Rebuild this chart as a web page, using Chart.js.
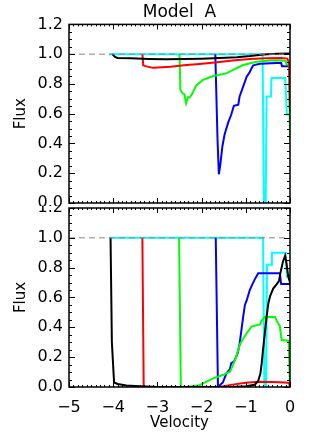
<!DOCTYPE html>
<html>
<head>
<meta charset="utf-8">
<script src="https://cdn.jsdelivr.net/npm/chart.js@4.4.1/dist/chart.umd.min.js"></script>
<style>
  html, body { margin: 0; padding: 0; background: #fff; }
  #wrap { position: relative; width: 311px; height: 434px; }
  canvas { position: absolute; left: 0; }
  #topChart { top: 0; }
  #bottomChart { top: 206px; }
</style>
</head>
<body>
<div id="wrap">
  <canvas id="topChart" width="311" height="206"></canvas>
  <canvas id="bottomChart" width="311" height="228"></canvas>
</div>
<script>
// tick labels
const xTickValues = [-5, -4, -3, -2, -1, 0];
const xTickLabels = ["\u22125", "\u22124", "\u22123", "\u22122", "\u22121", "0"];
const yTickValues = [0, 0.2, 0.4, 0.6, 0.8, 1.0, 1.2];
const yTickLabels = ["0.0", "0.2", "0.4", "0.6", "0.8", "1.0", "1.2"];

// continuum level (dashed)
const refV = [-5, 0];
const refF = [1, 1];

// top panel
const topBlackV = [-4.02, -3.96, -3.9, -3.6, -3.2, -2.8, -2.4, -2.0, -1.6, -1.2, -0.9, -0.6, -0.3, 0];
const topBlackF = [1.0, 0.982, 0.975, 0.972, 0.968, 0.966, 0.968, 0.97, 0.974, 0.98, 0.987, 0.997, 1.003, 1.004];
const topRedV = [-3.34, -3.32, -3.25, -3.1, -2.9, -2.7, -2.4, -2.05, -1.7, -1.3, -0.9, -0.55, -0.2, -0.06, -0.02, 0];
const topRedF = [1.0, 0.925, 0.918, 0.908, 0.912, 0.916, 0.925, 0.934, 0.944, 0.957, 0.967, 0.973, 0.975, 0.97, 0.94, 0.62];
const topGreenV = [-2.5, -2.48, -2.44, -2.39, -2.35, -2.31, -2.27, -2.22, -2.12, -1.97, -1.74, -1.44, -1.3, -1.06, -0.76, -0.45, -0.23, -0.1, -0.08, -0.02, 0];
const topGreenF = [1.0, 0.76, 0.74, 0.73, 0.67, 0.71, 0.71, 0.73, 0.79, 0.827, 0.853, 0.871, 0.893, 0.927, 0.949, 0.957, 0.957, 0.955, 0.93, 0.93, 0.42];
const topBlueV = [-1.69, -1.64, -1.61, -1.58, -1.53, -1.48, -1.4, -1.33, -1.27, -1.17, -1.14, -1.06, -0.98, -0.91, -0.87, -0.83, -0.68, -0.3, -0.2, -0.18, 0];
const topBlueF = [1.0, 0.43, 0.193, 0.25, 0.38, 0.46, 0.54, 0.593, 0.653, 0.66, 0.716, 0.782, 0.849, 0.88, 0.905, 0.925, 0.935, 0.94, 0.94, 0.918, 0.918];
const topCyanV = [-4.09, -0.62, -0.59, -0.55, -0.53, -0.43, -0.42, -0.11, -0.07, 0];
const topCyanF = [1.0, 1.0, -0.02, -0.02, 0.715, 0.715, 0.84, 0.84, 0.595, 0.595];

// bottom panel
const botBlackV = [-4.06, -4.03, -3.98, -3.9, -3.7, -3.4, -3.0, -2.0, -1.3, -1.0, -0.8, -0.72, -0.67, -0.64, -0.61, -0.57, -0.53, -0.49, -0.45, -0.38, -0.3, -0.25, -0.22, -0.16, -0.11, -0.08, -0.04, 0];
const botBlackF = [1.0, 0.3, 0.03, 0.02, 0.01, 0.005, 0.0, 0.0, 0.0, 0.005, 0.015, 0.04, 0.09, 0.16, 0.25, 0.36, 0.47, 0.56, 0.61, 0.66, 0.69, 0.71, 0.76, 0.84, 0.88, 0.83, 0.74, 0.7];
const botRedV = [-3.34, -3.31, -3.0, -2.0, -1.6, -1.3, -1.0, -0.7, -0.4, -0.1, -0.02, 0];
const botRedF = [1.0, 0.0, -0.004, -0.004, 0.0, 0.016, 0.028, 0.036, 0.034, 0.03, 0.026, 0.0];
const botGreenV = [-2.51, -2.47, -2.35, -2.05, -1.74, -1.52, -1.36, -1.3, -1.22, -1.14, -1.08, -0.98, -0.91, -0.87, -0.68, -0.64, -0.57, -0.34, -0.3, -0.23, -0.19, -0.03, 0];
const botGreenF = [1.0, 0.0, 0.0, 0.012, 0.058, 0.08, 0.103, 0.14, 0.2, 0.28, 0.315, 0.36, 0.39, 0.405, 0.42, 0.445, 0.47, 0.47, 0.44, 0.41, 0.315, 0.31, 0.0];
const botBlueV = [-1.68, -1.63, -1.52, -1.44, -1.36, -1.33, -1.27, -1.22, -1.18, -1.14, -1.1, -1.06, -1.02, -0.98, -0.91, -0.85, -0.8, -0.72, -0.23, -0.2, 0];
const botBlueF = [1.0, 0.0, 0.03, 0.09, 0.12, 0.16, 0.17, 0.2, 0.23, 0.29, 0.38, 0.47, 0.55, 0.58, 0.65, 0.69, 0.72, 0.763, 0.763, 0.69, 0.69];
const botCyanV = [-4.09, -0.61, -0.58, -0.54, -0.52, -0.42, -0.41, -0.1, -0.07, 0];
const botCyanF = [1.0, 1.0, -0.02, -0.02, 0.82, 0.82, 0.9, 0.9, 0.74, 0.74];

const FONT = "'DejaVu Sans', sans-serif";

const pts = (v, f) => v.map((x, i) => ({ x: x, y: f[i] }));

const line = (v, f, color) => ({
  data: pts(v, f),
  borderColor: color,
  borderWidth: 2,
  pointRadius: 0,
  tension: 0,
  fill: false,
});

// IDL style box with inward ticks on all four sides
const framePlugin = {
  id: "frame",
  afterDatasetsDraw(chart) {
    const { ctx, chartArea: a, scales } = chart;
    const x = scales.x, y = scales.y;
    ctx.save();
    ctx.strokeStyle = "#000";
    ctx.lineWidth = 1;
    ctx.beginPath();
    for (let i = 0; i <= 50; i++) {
      const px = Math.round(x.getPixelForValue(-5 + i / 10)) + 0.5;
      const len = i % 10 === 0 ? 5 : 2;
      ctx.moveTo(px, a.bottom);
      ctx.lineTo(px, a.bottom - len);
      ctx.moveTo(px, a.top);
      ctx.lineTo(px, a.top + len);
    }
    for (let i = 0; i <= 24; i++) {
      const py = Math.round(y.getPixelForValue(i * 0.05)) + 0.5;
      const len = i % 4 === 0 ? 6 : 3;
      ctx.moveTo(a.left, py);
      ctx.lineTo(a.left + len, py);
      ctx.moveTo(a.right, py);
      ctx.lineTo(a.right - len, py);
    }
    ctx.stroke();
    ctx.lineWidth = 1.5;
    ctx.strokeRect(a.left, a.top, a.right - a.left, a.bottom - a.top);
    ctx.restore();
  },
};

const yScale = {
  type: "linear",
  min: 0,
  max: 1.2,
  afterBuildTicks: (s) => { s.ticks = yTickValues.map((v) => ({ value: v })); },
  afterFit: (s) => {
    s.width = 69;
    s.paddingTop = 0;
    s.paddingBottom = 0;
  },
  ticks: {
    padding: 6,
    color: "#000",
    font: { family: FONT, size: 16 },
    callback: (v) => yTickLabels[yTickValues.indexOf(Math.round(v * 10) / 10)],
  },
  grid: { display: false, drawTicks: false },
  border: { display: false },
  title: {
    display: true,
    text: "Flux",
    color: "#000",
    font: { family: FONT, size: 15 },
    padding: { top: 12, bottom: 0 },
  },
};

const refLine = {
  data: pts(refV, refF),
  borderColor: "#888",
  borderWidth: 1,
  borderDash: [6, 4],
  pointRadius: 0,
  fill: false,
};

new Chart(document.getElementById("topChart"), {
  type: "line",
  data: {
    datasets: [
      refLine,
      line(topBlackV, topBlackF, "#000000"),
      line(topRedV, topRedF, "#ff0000"),
      line(topGreenV, topGreenF, "#00ff00"),
      line(topBlueV, topBlueF, "#0000ff"),
      line(topCyanV, topCyanF, "#00ffff"),
    ],
  },
  options: {
    responsive: false,
    animation: false,
    devicePixelRatio: 1,
    layout: { padding: { left: 0, right: 21, top: 0, bottom: 3 } },
    plugins: {
      legend: { display: false },
      tooltip: { enabled: false },
      title: {
        display: true,
        fullSize: false,
        text: "Model  A",
        color: "#000",
        font: { family: FONT, size: 17, weight: "normal" },
        padding: { top: 2, bottom: 2 },
      },
    },
    scales: {
      x: { type: "linear", min: -5, max: 0, display: false },
      y: yScale,
    },
  },
  plugins: [framePlugin],
});

new Chart(document.getElementById("bottomChart"), {
  type: "line",
  data: {
    datasets: [
      Object.assign({}, refLine, { data: pts(refV, refF) }),
      line(botBlackV, botBlackF, "#000000"),
      line(botRedV, botRedF, "#ff0000"),
      line(botGreenV, botGreenF, "#00ff00"),
      line(botBlueV, botBlueF, "#0000ff"),
      line(botCyanV, botCyanF, "#00ffff"),
    ],
  },
  options: {
    responsive: false,
    animation: false,
    devicePixelRatio: 1,
    layout: { padding: { left: 0, right: 21, top: 2, bottom: 0 } },
    plugins: {
      legend: { display: false },
      tooltip: { enabled: false },
    },
    scales: {
      x: {
        type: "linear",
        min: -5,
        max: 0,
        afterBuildTicks: (s) => { s.ticks = xTickValues.map((v) => ({ value: v })); },
        afterFit: (s) => {
          s.height = 47;
          s.paddingLeft = 0;
          s.paddingRight = 0;
        },
        ticks: {
          padding: 11,
          maxRotation: 0,
          color: "#000",
          font: { family: FONT, size: 16 },
          callback: (v) => xTickLabels[xTickValues.indexOf(Math.round(v))],
        },
        grid: { display: false, drawTicks: false },
        border: { display: false },
        title: {
          display: true,
          text: "Velocity",
          color: "#000",
          font: { family: FONT, size: 15 },
          padding: { top: 0, bottom: 2 },
        },
      },
      y: Object.assign({}, yScale),
    },
  },
  plugins: [framePlugin],
});
</script>
</body>
</html>
